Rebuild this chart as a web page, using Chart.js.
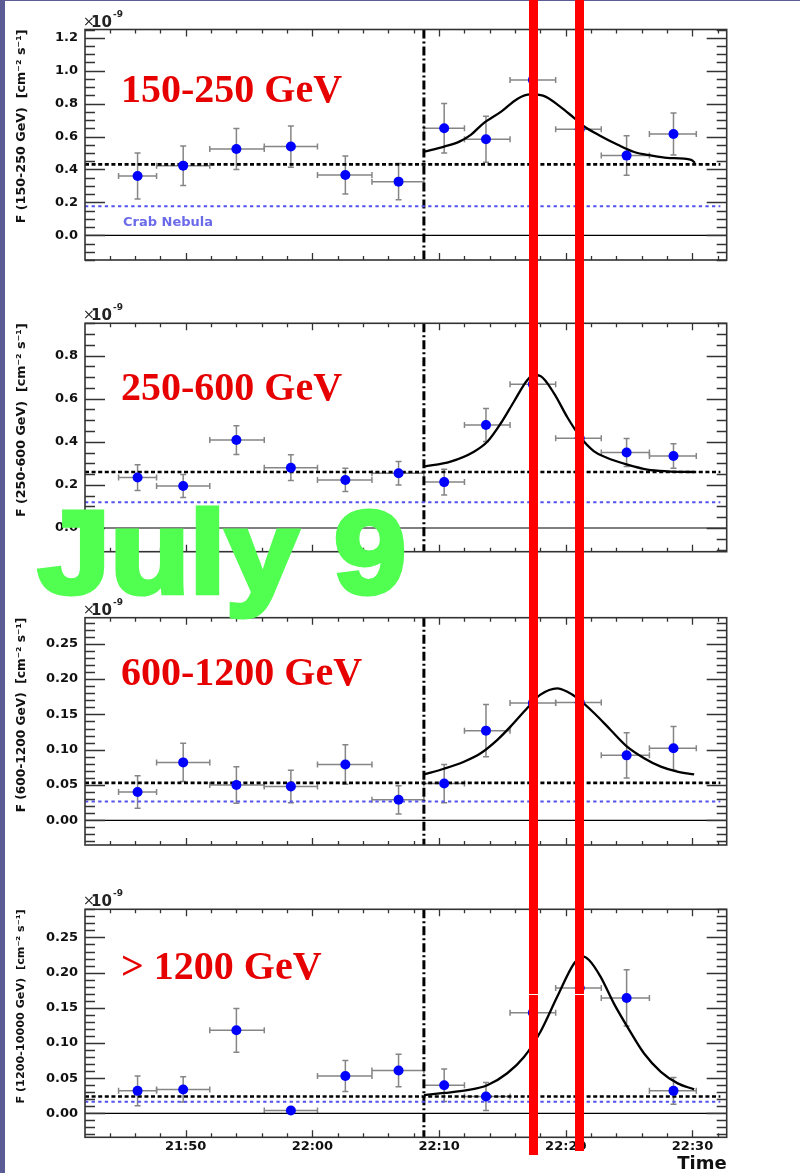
<!DOCTYPE html>
<html>
<head>
<meta charset="utf-8">
<script src="https://cdn.jsdelivr.net/npm/chart.js@4.4.1/dist/chart.umd.min.js"></script>
<style>
  body { margin: 0; width: 800px; height: 1173px; background: #fff; position: relative; overflow: hidden; }
  .panel { position: absolute; left: 0; z-index: 1; }
  .edge-left { position: absolute; left: 0; top: 0; width: 5px; height: 1173px; background: #5c5c94; z-index: 3; }
  .edge-top { position: absolute; left: 0; top: 0; width: 800px; height: 1px; background: #5c5c94; z-index: 3; }
  .date { position: absolute; left: 38px; top: 494px; font: bold 117px "Liberation Sans", Arial, sans-serif; line-height: 117px;
          color: #50ff50; -webkit-text-stroke: 5px #50ff50; transform: scaleX(1.11); transform-origin: left top;
          white-space: nowrap; z-index: 2; }
  .marker { position: absolute; top: 0; width: 8.5px; background: #ff0000; z-index: 4; }
  .marker-gap { position: absolute; height: 1px; background: #fff; z-index: 5; }
</style>
</head>
<body>
<div class="edge-left"></div>
<div class="edge-top"></div>
<canvas id="p0" class="panel"></canvas>
<canvas id="p1" class="panel"></canvas>
<canvas id="p2" class="panel"></canvas>
<canvas id="p3" class="panel"></canvas>
<div class="date">July 9</div>
<script>
// time is in minutes after 21:00
const binCenter = [46.2, 49.8, 54.0, 58.3, 62.6, 66.8, 70.4, 73.7, 77.4, 81.1, 84.8, 88.5];
const binStart  = [44.7, 47.7, 51.9, 56.2, 60.4, 64.7, 68.8, 72.0, 75.6, 79.2, 82.8, 86.6];
const binEnd    = [47.7, 51.9, 56.2, 60.4, 64.7, 68.8, 72.0, 75.6, 79.2, 82.8, 86.6, 90.3];
const timeTicks = [50, 60, 70, 80, 90];
const flareStart = 68.8;
const markerTimes = [77.47, 81.08];

const flux150 = [0.36, 0.423, 0.524, 0.539, 0.366, 0.326, 0.65, 0.583, 0.943, 0.644, 0.484, 0.615];
const err150  = [0.14, 0.12, 0.125, 0.125, 0.115, 0.11, 0.15, 0.14, 0.15, 0.14, 0.12, 0.128];
const fitT150 = [68.8, 70.4, 71.6, 72.5, 73.5, 74.9, 76.2, 77.2, 78.2, 79.5, 80.6, 81.4, 82.7, 84.1, 85.4, 86.7, 88.0, 89.9, 90.2];
const fitF150 = [0.508, 0.539, 0.569, 0.61, 0.68, 0.751, 0.83, 0.856, 0.848, 0.785, 0.716, 0.664, 0.605, 0.55, 0.506, 0.485, 0.47, 0.458, 0.44];

const flux250 = [0.234, 0.195, 0.408, 0.28, 0.223, 0.254, 0.213, 0.478, 0.667, 0.416, 0.35, 0.334];
const err250  = [0.06, 0.053, 0.067, 0.06, 0.054, 0.055, 0.06, 0.077, 0.08, 0.07, 0.065, 0.057];
const fitT250 = [68.8, 70.9, 72.75, 73.8, 74.86, 75.9, 76.97, 77.5, 78.0, 79.07, 80.12, 81.17, 82.23, 83.28, 84.86, 86.44, 88.02, 90.13];
const fitF250 = [0.285, 0.308, 0.354, 0.4, 0.485, 0.586, 0.687, 0.71, 0.705, 0.625, 0.514, 0.42, 0.356, 0.325, 0.294, 0.271, 0.263, 0.26];

const flux600 = [0.040, 0.082, 0.050, 0.048, 0.079, 0.029, 0.052, 0.127, 0.166, 0.167, 0.092, 0.102];
const err600  = [0.023, 0.027, 0.026, 0.023, 0.028, 0.02, 0.027, 0.037, 0.035, 0.035, 0.032, 0.031];
const fitT600 = [68.8, 70.38, 71.96, 73.28, 74.6, 75.65, 76.96, 78.0, 79.33, 80.12, 80.91, 82.23, 83.54, 84.86, 86.18, 87.5, 88.8, 90.13];
const fitF600 = [0.065, 0.073, 0.083, 0.095, 0.114, 0.133, 0.159, 0.178, 0.187, 0.182, 0.173, 0.152, 0.128, 0.104, 0.088, 0.076, 0.069, 0.065];

const flux1200 = [0.032, 0.034, 0.118, 0.004, 0.053, 0.061, 0.040, 0.024, 0.143, 0.178, 0.164, 0.032];
const err1200  = [0.021, 0.018, 0.031, 0.004, 0.022, 0.023, 0.023, 0.02, 0.035, 0.035, 0.04, 0.019];
const fitT1200 = [68.8, 70.38, 72.22, 73.8, 75.38, 76.7, 78.0, 79.33, 80.65, 81.3, 81.83, 82.75, 83.8, 84.86, 86.18, 87.5, 88.8, 90.13];
const fitF1200 = [0.026, 0.029, 0.033, 0.040, 0.057, 0.080, 0.116, 0.166, 0.213, 0.223, 0.218, 0.194, 0.156, 0.123, 0.085, 0.059, 0.043, 0.034];

const meanFlux = [0.431, 0.26, 0.053, 0.024];
const crabFlux = [0.176, 0.119, 0.0265, 0.0166];
const yTicks150 = [0, 0.2, 0.4, 0.6, 0.8, 1.0, 1.2];
const yTicks250 = [0, 0.2, 0.4, 0.6, 0.8];
const yTicksHigh = [0, 0.05, 0.10, 0.15, 0.20, 0.25];

const panels = [
  { title: '150-250 GeV', yTitle: 'F (150-250 GeV)  [cm⁻² s⁻¹]', yTitleSize: 12.7,
    flux: flux150, err: err150, fitT: fitT150, fitF: fitF150,
    yMin: -0.15, yMax: 1.25, yTicks: yTicks150, minorStep: 0.05, digits: 1, crabLabel: true,
    top: 0, height: 293, plotTop: 29.5, plotBottom: 260, titleBase: 101.7 },
  { title: '250-600 GeV', yTitle: 'F (250-600 GeV)  [cm⁻² s⁻¹]', yTitleSize: 12.7,
    flux: flux250, err: err250, fitT: fitT250, fitF: fitF250,
    yMin: -0.11, yMax: 0.95, yTicks: yTicks250, minorStep: 0.05, digits: 1,
    top: 294, height: 293, plotTop: 29.3, plotBottom: 257.7, titleBase: 106 },
  { title: '600-1200 GeV', yTitle: 'F (600-1200 GeV)  [cm⁻² s⁻¹]', yTitleSize: 12.2,
    flux: flux600, err: err600, fitT: fitT600, fitF: fitF600,
    yMin: -0.035, yMax: 0.287, yTicks: yTicksHigh, minorStep: 0.01, digits: 2,
    top: 588, height: 292, plotTop: 29.7, plotBottom: 257, titleBase: 97 },
  { title: '> 1200 GeV', yTitle: 'F (1200-10000 GeV)  [cm⁻² s⁻¹]', yTitleSize: 11.2,
    flux: flux1200, err: err1200, fitT: fitT1200, fitF: fitF1200,
    yMin: -0.034, yMax: 0.29, yTicks: yTicksHigh, minorStep: 0.01, digits: 2, timeAxis: true,
    top: 880, height: 293, plotTop: 29.3, plotBottom: 257.3, titleBase: 99.3 },
];

const tMin = 42.05;
const tMax = 92.7;
const lineEnd = 92.2;
const tickFont = { family: 'DejaVu Sans', weight: 'bold', size: 13 };

const timeLabel = (m) => `${21 + Math.floor(m / 60)}:${String(m % 60).padStart(2, '0')}`;

const panelDecor = {
  id: 'panelDecor',
  beforeDatasetsDraw(chart, args, opts) {
    const p = panels[opts.index];
    const { ctx, chartArea: a, scales: { x, y } } = chart;
    ctx.save();
    ctx.beginPath();
    ctx.rect(a.left, a.top, a.width, a.height);
    ctx.clip();

    // error bars, with small end caps
    ctx.strokeStyle = '#858585';
    ctx.lineWidth = 1.5;
    p.flux.forEach((f, i) => {
      const px = x.getPixelForValue(binCenter[i]);
      const py = y.getPixelForValue(f);
      const x0 = x.getPixelForValue(binStart[i]);
      const x1 = x.getPixelForValue(binEnd[i]);
      const y0 = y.getPixelForValue(f + p.err[i]);
      const y1 = y.getPixelForValue(f - p.err[i]);
      ctx.beginPath();
      ctx.moveTo(x0, py); ctx.lineTo(x1, py);
      ctx.moveTo(x0, py - 3); ctx.lineTo(x0, py + 3);
      ctx.moveTo(x1, py - 3); ctx.lineTo(x1, py + 3);
      ctx.moveTo(px, y0); ctx.lineTo(px, y1);
      ctx.moveTo(px - 3, y0); ctx.lineTo(px + 3, y0);
      ctx.moveTo(px - 3, y1); ctx.lineTo(px + 3, y1);
      ctx.stroke();
    });

    // start of the flare window
    const fx = x.getPixelForValue(flareStart);
    ctx.strokeStyle = '#000';
    ctx.lineWidth = 3;
    ctx.setLineDash([9, 3, 2, 3]);
    ctx.beginPath();
    ctx.moveTo(fx, a.top);
    ctx.lineTo(fx, a.bottom);
    ctx.stroke();
    ctx.restore();
  },
  afterDraw(chart, args, opts) {
    const p = panels[opts.index];
    const { ctx, chartArea: a, scales: { x, y } } = chart;
    ctx.save();

    // inward ticks on all four sides
    ctx.strokeStyle = '#333';
    ctx.lineWidth = 1.3;
    ctx.beginPath();
    const kFrom = Math.ceil(p.yMin / p.minorStep - 1e-6);
    const kTo = Math.floor(p.yMax / p.minorStep + 1e-6);
    for (let k = kFrom; k <= kTo; k++) {
      const v = k * p.minorStep;
      const major = p.yTicks.some((t) => Math.abs(t - v) < 1e-6);
      const len = major ? 20 : 10;
      const py = Math.round(y.getPixelForValue(v)) + 0.5;
      ctx.moveTo(a.left, py); ctx.lineTo(a.left + len, py);
      ctx.moveTo(a.right, py); ctx.lineTo(a.right - len, py);
    }
    for (let m = 44; m <= 92; m += 2) {
      const major = timeTicks.includes(m);
      const len = major ? 7 : 4;
      const px = Math.round(x.getPixelForValue(m)) + 0.5;
      ctx.moveTo(px, a.bottom); ctx.lineTo(px, a.bottom - len);
      ctx.moveTo(px, a.top); ctx.lineTo(px, a.top + len);
    }
    ctx.stroke();

    ctx.lineWidth = 1.6;
    ctx.strokeRect(a.left, a.top, a.width, a.height);

    // axis multiplier
    ctx.fillStyle = '#222';
    ctx.textBaseline = 'alphabetic';
    ctx.textAlign = 'left';
    ctx.font = '14px "DejaVu Sans"';
    ctx.fillText('×', a.left - 2, a.top - 4);
    ctx.font = 'bold 15px "DejaVu Sans"';
    ctx.fillText('10', a.left + 6, a.top - 3);
    ctx.font = 'bold 9px "DejaVu Sans"';
    ctx.fillText('-9', a.left + 28, a.top - 13);

    // energy band
    ctx.fillStyle = '#e60000';
    ctx.font = 'bold 40px "Liberation Serif", "Times New Roman", serif';
    ctx.fillText(p.title, 121, p.titleBase);

    if (p.crabLabel) {
      ctx.fillStyle = '#6b6bea';
      ctx.font = 'bold 13px "DejaVu Sans"';
      ctx.fillText('Crab Nebula', 123, y.getPixelForValue(crabFlux[opts.index]) + 20);
    }
    ctx.restore();
  },
};

const charts = panels.map((p, idx) => {
  const canvas = document.getElementById('p' + idx);
  canvas.width = 800;
  canvas.height = p.height;
  canvas.style.top = p.top + 'px';

  const points = binCenter.map((t, i) => ({ x: t, y: p.flux[i] }));
  const fit = p.fitT.map((t, i) => ({ x: t, y: p.fitF[i] }));
  const mean = [{ x: tMin, y: meanFlux[idx] }, { x: lineEnd, y: meanFlux[idx] }];
  const crab = [{ x: tMin, y: crabFlux[idx] }, { x: lineEnd, y: crabFlux[idx] }];
  const zero = [{ x: tMin, y: 0 }, { x: tMax, y: 0 }];

  return new Chart(canvas, {
    type: 'scatter',
    data: {
      datasets: [
        { data: points, pointRadius: 5, pointBackgroundColor: '#0000ff', pointBorderWidth: 0, order: 0 },
        { data: fit, showLine: true, borderColor: '#000', borderWidth: 2.3, pointRadius: 0,
          cubicInterpolationMode: 'monotone', order: 1 },
        { data: mean, showLine: true, borderColor: '#000', borderWidth: 2.7, borderDash: [4, 2.6], pointRadius: 0, order: 2 },
        { data: crab, showLine: true, borderColor: '#5252f0', borderWidth: 2, borderDash: [3.3, 3.3], pointRadius: 0, order: 3 },
        { data: zero, showLine: true, borderColor: '#000', borderWidth: 1.2, pointRadius: 0, order: 4 },
      ],
    },
    options: {
      responsive: false,
      animation: false,
      devicePixelRatio: 1,
      events: [],
      layout: { padding: { top: p.plotTop, right: 73.3, bottom: 0, left: 0 } },
      scales: {
        x: {
          type: 'linear',
          min: tMin,
          max: tMax,
          grid: { display: false, drawTicks: false },
          border: { display: false },
          afterBuildTicks(scale) {
            scale.ticks = timeTicks.map((v) => ({ value: v }));
          },
          afterFit(scale) {
            scale.height = p.height - p.plotBottom;
          },
          ticks: {
            display: !!p.timeAxis,
            autoSkip: false,
            maxRotation: 0,
            padding: 2,
            color: '#111',
            font: tickFont,
            callback: (v) => timeLabel(v),
          },
          title: {
            display: !!p.timeAxis,
            text: 'Time',
            align: 'end',
            color: '#111',
            padding: 0,
            font: { family: 'DejaVu Sans', weight: 'bold', size: 18, lineHeight: 1 },
          },
        },
        y: {
          min: p.yMin,
          max: p.yMax,
          grid: { display: false, drawTicks: false },
          border: { display: false },
          afterBuildTicks(scale) {
            scale.ticks = p.yTicks.map((v) => ({ value: v }));
          },
          afterFit(scale) {
            scale.width = 85;
          },
          ticks: {
            autoSkip: false,
            padding: 7,
            color: '#111',
            font: tickFont,
            callback: (v) => Number(v).toFixed(p.digits),
          },
          title: {
            display: true,
            text: p.yTitle,
            align: 'end',
            color: '#111',
            padding: { top: 14.5 },
            font: { family: 'DejaVu Sans', weight: 'bold', size: p.yTitleSize },
          },
        },
      },
      plugins: {
        legend: { display: false },
        tooltip: { enabled: false },
        panelDecor: { index: idx },
      },
    },
    plugins: [panelDecor],
  });
});

// vertical time markers across all panels
const markerBottoms = [1155, 1151];
const xScale = charts[3].scales.x;
markerTimes.forEach((t, i) => {
  const bar = document.createElement('div');
  bar.className = 'marker';
  bar.style.left = (xScale.getPixelForValue(t) - 4.25) + 'px';
  bar.style.height = markerBottoms[i] + 'px';
  document.body.appendChild(bar);

  const gap = document.createElement('div');
  gap.className = 'marker-gap';
  gap.style.left = (xScale.getPixelForValue(t) - 4.25) + 'px';
  gap.style.width = '8.5px';
  gap.style.top = '994px';
  document.body.appendChild(gap);
});
</script>
</body>
</html>
